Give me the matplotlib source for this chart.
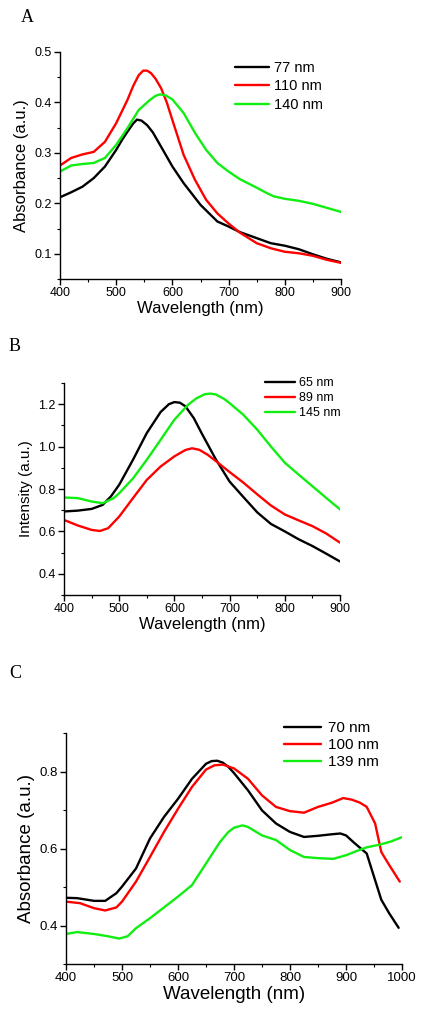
import matplotlib
matplotlib.use("Agg")
import matplotlib.pyplot as plt
from matplotlib.ticker import MultipleLocator

plt.rcParams['font.family'] = ['Liberation Sans', 'DejaVu Sans']

# ---------------- Panel A data ----------------
a_wl_77 = [400, 420, 440, 460, 480, 500, 510, 520, 530, 537, 545, 555, 565, 580, 600, 620, 650, 680, 700, 720, 750, 775, 800, 825, 850, 875, 900]
a_77 = [0.212, 0.222, 0.233, 0.250, 0.273, 0.306, 0.325, 0.342, 0.358, 0.366, 0.364, 0.355, 0.341, 0.312, 0.273, 0.240, 0.197, 0.164, 0.154, 0.143, 0.131, 0.121, 0.116, 0.109, 0.099, 0.090, 0.083]
a_wl_110 = [400, 420, 440, 460, 480, 500, 520, 530, 540, 548, 555, 562, 570, 580, 590, 600, 620, 640, 660, 680, 700, 720, 750, 775, 800, 825, 850, 875, 900]
a_110 = [0.275, 0.290, 0.297, 0.302, 0.322, 0.359, 0.405, 0.432, 0.454, 0.463, 0.463, 0.458, 0.447, 0.428, 0.400, 0.365, 0.296, 0.247, 0.207, 0.180, 0.160, 0.142, 0.121, 0.111, 0.104, 0.101, 0.096, 0.088, 0.082]
a_wl_140 = [400, 420, 440, 460, 480, 500, 520, 540, 560, 570, 578, 588, 600, 620, 640, 660, 680, 700, 720, 750, 765, 780, 800, 825, 850, 875, 900]
a_140 = [0.263, 0.275, 0.278, 0.280, 0.290, 0.316, 0.349, 0.385, 0.405, 0.413, 0.416, 0.414, 0.406, 0.379, 0.340, 0.306, 0.280, 0.263, 0.248, 0.231, 0.222, 0.214, 0.209, 0.205, 0.199, 0.191, 0.183]
a_labels = ['77 nm', '110 nm', '140 nm']

# ---------------- Panel B data ----------------
b_wl = [400, 425, 450, 470, 485, 500, 525, 550, 575, 590, 600, 610, 620, 635, 650, 675, 700, 725, 750, 775, 800, 825, 850, 875, 900]
b_65 = [0.694, 0.698, 0.706, 0.725, 0.765, 0.820, 0.938, 1.064, 1.163, 1.200, 1.210, 1.207, 1.190, 1.135, 1.060, 0.940, 0.835, 0.762, 0.690, 0.635, 0.600, 0.563, 0.531, 0.495, 0.458]
b_wl_89 = [400, 425, 450, 465, 480, 500, 525, 550, 575, 600, 620, 632, 645, 660, 675, 700, 725, 750, 775, 800, 825, 850, 875, 900]
b_89 = [0.654, 0.628, 0.607, 0.602, 0.615, 0.670, 0.757, 0.843, 0.906, 0.954, 0.984, 0.992, 0.985, 0.962, 0.932, 0.880, 0.830, 0.775, 0.722, 0.680, 0.652, 0.625, 0.590, 0.547]
b_wl_145 = [400, 425, 450, 470, 490, 500, 525, 550, 575, 600, 625, 640, 655, 665, 675, 690, 700, 725, 750, 775, 800, 825, 850, 875, 900]
b_145 = [0.760, 0.757, 0.741, 0.733, 0.757, 0.780, 0.850, 0.938, 1.032, 1.127, 1.198, 1.228, 1.247, 1.250, 1.246, 1.225, 1.205, 1.150, 1.080, 1.000, 0.924, 0.868, 0.813, 0.758, 0.704]
b_labels = ['65 nm', '89 nm', '145 nm']

# ---------------- Panel C data ----------------
c_wl_70 = [400, 420, 450, 470, 490, 500, 525, 550, 575, 600, 625, 650, 660, 670, 680, 690, 700, 725, 750, 775, 800, 825, 850, 875, 890, 900, 916, 937, 948, 963, 977, 994]
c_70 = [0.472, 0.471, 0.464, 0.464, 0.484, 0.501, 0.548, 0.626, 0.682, 0.729, 0.781, 0.820, 0.827, 0.828, 0.823, 0.812, 0.796, 0.751, 0.699, 0.665, 0.643, 0.630, 0.633, 0.637, 0.639, 0.634, 0.613, 0.587, 0.536, 0.467, 0.432, 0.394]
c_wl_100 = [400, 425, 450, 470, 490, 500, 525, 550, 575, 600, 625, 650, 665, 680, 700, 725, 750, 775, 800, 825, 850, 875, 895, 910, 925, 937, 952, 963, 975, 996]
c_100 = [0.462, 0.458, 0.445, 0.439, 0.447, 0.462, 0.514, 0.578, 0.643, 0.703, 0.760, 0.805, 0.816, 0.818, 0.808, 0.781, 0.738, 0.708, 0.697, 0.693, 0.708, 0.719, 0.731, 0.727, 0.719, 0.708, 0.665, 0.591, 0.562, 0.514]
c_wl_139 = [400, 420, 450, 475, 495, 510, 525, 550, 575, 600, 625, 650, 675, 690, 700, 715, 725, 750, 775, 800, 825, 850, 877, 901, 920, 937, 960, 980, 999]
c_139 = [0.378, 0.383, 0.378, 0.372, 0.366, 0.372, 0.393, 0.419, 0.447, 0.475, 0.505, 0.561, 0.617, 0.643, 0.654, 0.660, 0.656, 0.634, 0.622, 0.596, 0.578, 0.575, 0.573, 0.583, 0.594, 0.603, 0.610, 0.618, 0.629]
c_labels = ['70 nm', '100 nm', '139 nm']

colors = ['#000000', '#ff0000', '#11ee11']
LW = 1.7
W, H = 427, 1016

fig = plt.figure(figsize=(W / 100, H / 100), dpi=100)


def make_axes(l, r, t, b):
    return fig.add_axes([l / W, 1 - b / H, (r - l) / W, (b - t) / H])


def style(ax, tick_fs, xmaj, xmin, ymaj, ymin):
    for s in ['top', 'right']:
        ax.spines[s].set_visible(False)
    for s in ['left', 'bottom']:
        ax.spines[s].set_linewidth(1.0)
    ax.xaxis.set_major_locator(MultipleLocator(xmaj))
    ax.xaxis.set_minor_locator(MultipleLocator(xmin))
    ax.yaxis.set_major_locator(MultipleLocator(ymaj))
    ax.yaxis.set_minor_locator(MultipleLocator(ymin))
    ax.tick_params(which='major', direction='out', length=4, width=1, labelsize=tick_fs, pad=2)
    ax.tick_params(which='minor', direction='out', length=2.5, width=0.8)


def draw(ax, xs, ys, labels):
    for x, y, c, lab in zip(xs, ys, colors, labels):
        ax.plot(x, y, color=c, lw=LW, label=lab, solid_joinstyle='round', solid_capstyle='round')


# ---------- A ----------
axA = make_axes(60, 341, 52, 279)
draw(axA, [a_wl_77, a_wl_110, a_wl_140], [a_77, a_110, a_140], a_labels)
axA.set_xlim(400, 900)
axA.set_ylim(0.05, 0.5)
style(axA, 9, 100, 50, 0.1, 0.05)
axA.set_yticks([0.1, 0.2, 0.3, 0.4, 0.5])
axA.set_xlabel('Wavelength (nm)', fontsize=12, labelpad=1)
axA.set_ylabel('Absorbance (a.u.)', fontsize=12, labelpad=4)
axA.legend(loc='upper left', bbox_to_anchor=(235 / W, 1 - 61 / H), bbox_transform=fig.transFigure,
           frameon=False, fontsize=10.5, borderpad=0, borderaxespad=0, handlelength=2.3,
           handletextpad=0.35, labelspacing=0.3)
fig.text(27 / W, 1 - 17 / H, 'A', family='Liberation Serif', fontsize=13, ha='center', va='center')

# ---------- B ----------
axB = make_axes(64, 340, 383, 595)
draw(axB, [b_wl, b_wl_89, b_wl_145], [b_65, b_89, b_145], b_labels)
axB.set_xlim(400, 900)
axB.set_ylim(0.3, 1.3)
style(axB, 9, 100, 50, 0.2, 0.1)
axB.set_yticks([0.4, 0.6, 0.8, 1.0, 1.2])
axB.set_xlabel('Wavelength (nm)', fontsize=12, labelpad=1)
axB.set_ylabel('Intensity (a.u.)', fontsize=11, labelpad=4)
axB.legend(loc='upper left', bbox_to_anchor=(265 / W, 1 - 377 / H), bbox_transform=fig.transFigure,
           frameon=False, fontsize=9, borderpad=0, borderaxespad=0, handlelength=2.4,
           handletextpad=0.3, labelspacing=0.25)
fig.text(15 / W, 1 - 346 / H, 'B', family='Liberation Serif', fontsize=13, ha='center', va='center')

# ---------- C ----------
axC = make_axes(66, 402, 733, 964)
draw(axC, [c_wl_70, c_wl_100, c_wl_139], [c_70, c_100, c_139], c_labels)
axC.set_xlim(400, 1000)
axC.set_ylim(0.3, 0.9)
style(axC, 9.5, 100, 50, 0.2, 0.1)
axC.set_yticks([0.4, 0.6, 0.8])
axC.set_xlabel('Wavelength (nm)', fontsize=13.5, labelpad=1)
axC.set_ylabel('Absorbance (a.u.)', fontsize=13.5, labelpad=3)
axC.legend(loc='upper left', bbox_to_anchor=(284 / W, 1 - 721 / H), bbox_transform=fig.transFigure,
           frameon=False, fontsize=11, borderpad=0, borderaxespad=0, handlelength=2.4,
           handletextpad=0.45, labelspacing=0.2)
fig.text(15 / W, 1 - 674 / H, 'C', family='Liberation Serif', fontsize=13, ha='center', va='center')

fig.savefig('out.png', dpi=100)
